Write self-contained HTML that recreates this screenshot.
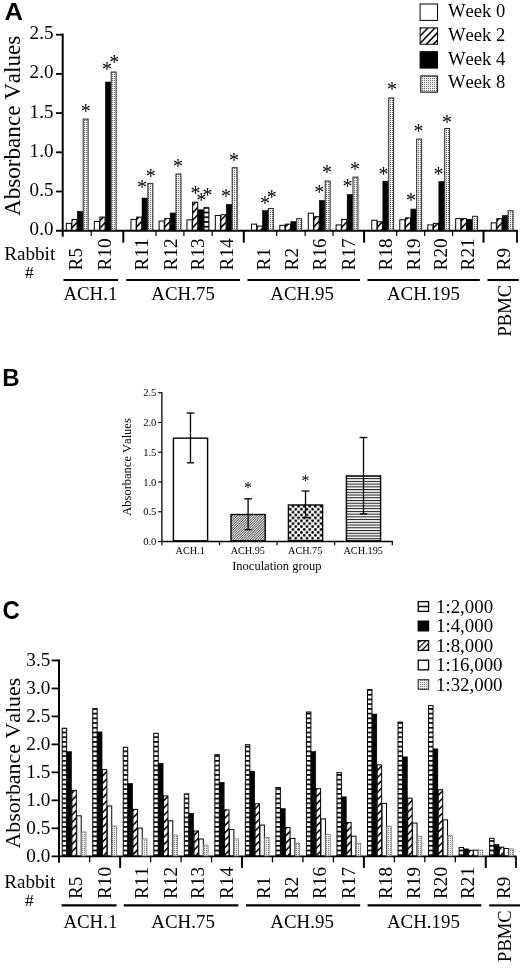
<!DOCTYPE html>
<html lang="en">
<head>
<meta charset="utf-8">
<title>Absorbance Values by rabbit and inoculation group</title>
<style>
html,body{margin:0;padding:0;background:#fff;}
body{width:520px;height:968px;overflow:hidden;}
svg{display:block;}
.s{font-family:"Liberation Serif","Times New Roman",serif;fill:#000;font-kerning:none;}
.h{font-family:"Liberation Sans",Arial,sans-serif;font-weight:bold;fill:#000;}
</style>
</head>
<body>
<svg width="520" height="968" viewBox="0 0 520 968">
<defs>
<pattern id="hatch" patternUnits="userSpaceOnUse" width="5.1" height="5.1" patternTransform="rotate(-46)">
<rect width="5.1" height="5.1" fill="#fff"/><rect x="0" y="0" width="5.1" height="1.55" fill="#000"/>
</pattern>
<pattern id="hatchL" patternUnits="userSpaceOnUse" width="3.9" height="3.9" patternTransform="rotate(-45) translate(0 0.9)">
<rect width="3.9" height="3.9" fill="#fff"/><rect x="0" y="0" width="3.9" height="1.2" fill="#000"/>
</pattern>
<pattern id="dotfineA" patternUnits="userSpaceOnUse" width="2" height="2">
<rect width="2" height="2" fill="#f0f0f0"/><rect x="0" y="0" width="1" height="1" fill="#6a6a6a"/>
</pattern>
<pattern id="dotfine" patternUnits="userSpaceOnUse" width="2" height="2">
<rect width="2" height="2" fill="#f0f0f0"/><rect x="0" y="0" width="1" height="1" fill="#808080"/>
</pattern>
<pattern id="fine" patternUnits="userSpaceOnUse" width="1.75" height="1.75" patternTransform="rotate(-45)">
<rect width="1.75" height="1.75" fill="#fff"/><rect x="0" y="0" width="1.75" height="0.66" fill="#111"/>
</pattern>
<pattern id="hstripe" patternUnits="userSpaceOnUse" width="10" height="2.73" patternTransform="translate(0 0.4)">
<rect width="10" height="2.73" fill="#fff"/><rect x="0" y="0" width="10" height="1.05" fill="#1a1a1a"/>
</pattern>
<pattern id="ladder" patternUnits="userSpaceOnUse" width="10" height="4.72">
<rect width="10" height="4.72" fill="#fff"/><rect x="0" y="0" width="10" height="1.7" fill="#000"/>
</pattern>
<pattern id="ladderA" patternUnits="userSpaceOnUse" width="10" height="4.75" patternTransform="translate(0 2.6)">
<rect width="10" height="4.75" fill="#fff"/><rect x="0" y="0" width="10" height="1.7" fill="#000"/>
</pattern>
<pattern id="dots" patternUnits="userSpaceOnUse" width="5.6" height="5.8" patternTransform="translate(0.4 0.3)">
<rect width="5.6" height="5.8" fill="#fff"/><circle cx="1.4" cy="1.45" r="1.42" fill="#000"/><circle cx="4.2" cy="4.35" r="1.42" fill="#000"/>
</pattern>
</defs>
<rect x="0" y="0" width="520" height="968" fill="#fff"/>

<g id="panelA">
<text class="h" font-size="23.5" transform="translate(4.6 20.1) scale(1.090 1)">A</text>
<line x1="62.7" y1="33.6" x2="62.7" y2="231.6" stroke="#000" stroke-width="2"/>
<text class="s" font-size="18.3" text-anchor="end" transform="translate(53.4 235.1) scale(1.040 1)">0.0</text>
<line x1="56" y1="191.5" x2="62.7" y2="191.5" stroke="#000" stroke-width="1.8"/>
<text class="s" font-size="18.3" text-anchor="end" transform="translate(53.4 195.9) scale(1.040 1)">0.5</text>
<line x1="56" y1="152.3" x2="62.7" y2="152.3" stroke="#000" stroke-width="1.8"/>
<text class="s" font-size="18.3" text-anchor="end" transform="translate(53.4 156.7) scale(1.040 1)">1.0</text>
<line x1="56" y1="113.1" x2="62.7" y2="113.1" stroke="#000" stroke-width="1.8"/>
<text class="s" font-size="18.3" text-anchor="end" transform="translate(53.4 117.5) scale(1.040 1)">1.5</text>
<line x1="56" y1="73.9" x2="62.7" y2="73.9" stroke="#000" stroke-width="1.8"/>
<text class="s" font-size="18.3" text-anchor="end" transform="translate(53.4 78.3) scale(1.040 1)">2.0</text>
<line x1="56" y1="34.7" x2="62.7" y2="34.7" stroke="#000" stroke-width="1.8"/>
<text class="s" font-size="18.3" text-anchor="end" transform="translate(53.4 39.1) scale(1.040 1)">2.5</text>
<line x1="56" y1="230.7" x2="517.9" y2="230.7" stroke="#000" stroke-width="2"/>
<text class="s" font-size="23.1" text-anchor="middle" transform="translate(20.2 125.8) rotate(-90)">Absorbance Values</text>
<rect x="66.3" y="223.36" width="5.13" height="6.84" fill="#fff" stroke="#000" stroke-width="1"/>
<rect x="71.93" y="219.44" width="5.13" height="10.76" fill="url(#hatch)" stroke="#000" stroke-width="1"/>
<rect x="77.36" y="211.4" width="5.33" height="19" fill="#000" stroke="#000" stroke-width="0.6"/>
<rect x="83.19" y="119.09" width="4.93" height="111.11" fill="url(#dotfineA)" stroke="#262626" stroke-width="1"/>
<line x1="62.7" y1="230.7" x2="62.7" y2="236.7" stroke="#000" stroke-width="2"/>
<rect x="94.3" y="221.4" width="5.13" height="8.8" fill="#fff" stroke="#000" stroke-width="1"/>
<rect x="99.93" y="217.09" width="5.13" height="13.11" fill="url(#hatch)" stroke="#000" stroke-width="1"/>
<rect x="105.36" y="82.04" width="5.33" height="148.36" fill="#000" stroke="#000" stroke-width="0.6"/>
<rect x="111.19" y="72.05" width="4.93" height="158.15" fill="url(#dotfineA)" stroke="#262626" stroke-width="1"/>
<line x1="91.2" y1="230.7" x2="91.2" y2="236.1" stroke="#000" stroke-width="1.2"/>
<rect x="131" y="219.44" width="5.13" height="10.76" fill="#fff" stroke="#000" stroke-width="1"/>
<rect x="136.63" y="217.09" width="5.13" height="13.11" fill="url(#hatch)" stroke="#000" stroke-width="1"/>
<rect x="142.06" y="198.07" width="5.33" height="32.33" fill="#000" stroke="#000" stroke-width="0.6"/>
<rect x="147.89" y="183.38" width="4.93" height="46.82" fill="url(#dotfineA)" stroke="#262626" stroke-width="1"/>
<line x1="123.3" y1="230.7" x2="123.3" y2="242.7" stroke="#000" stroke-width="2"/>
<rect x="159.1" y="221.01" width="5.13" height="9.19" fill="#fff" stroke="#000" stroke-width="1"/>
<rect x="164.73" y="218.66" width="5.13" height="11.54" fill="url(#hatch)" stroke="#000" stroke-width="1"/>
<rect x="170.16" y="212.97" width="5.33" height="17.43" fill="#000" stroke="#000" stroke-width="0.6"/>
<rect x="175.99" y="173.97" width="4.93" height="56.23" fill="url(#dotfineA)" stroke="#262626" stroke-width="1"/>
<line x1="156" y1="230.7" x2="156" y2="236.1" stroke="#000" stroke-width="1.2"/>
<rect x="187" y="219.83" width="5.13" height="10.37" fill="#fff" stroke="#000" stroke-width="1"/>
<rect x="192.63" y="202.19" width="5.13" height="28.01" fill="url(#hatch)" stroke="#000" stroke-width="1"/>
<rect x="198.06" y="209.83" width="5.33" height="20.57" fill="#000" stroke="#000" stroke-width="0.6"/>
<rect x="203.94" y="207.73" width="4.93" height="22.42" fill="url(#ladderA)" stroke="#000" stroke-width="1.1"/>
<line x1="183.9" y1="230.7" x2="183.9" y2="236.1" stroke="#000" stroke-width="1.2"/>
<rect x="215.3" y="215.52" width="5.13" height="14.68" fill="#fff" stroke="#000" stroke-width="1"/>
<rect x="220.93" y="214.74" width="5.13" height="15.46" fill="url(#hatch)" stroke="#000" stroke-width="1"/>
<rect x="226.36" y="204.34" width="5.33" height="26.06" fill="#000" stroke="#000" stroke-width="0.6"/>
<rect x="232.19" y="167.7" width="4.93" height="62.5" fill="url(#dotfineA)" stroke="#262626" stroke-width="1"/>
<line x1="212.2" y1="230.7" x2="212.2" y2="236.1" stroke="#000" stroke-width="1.2"/>
<rect x="251.5" y="224.14" width="5.13" height="6.06" fill="#fff" stroke="#000" stroke-width="1"/>
<rect x="257.13" y="226.1" width="5.13" height="4.1" fill="url(#hatch)" stroke="#000" stroke-width="1"/>
<rect x="262.56" y="210.62" width="5.33" height="19.78" fill="#000" stroke="#000" stroke-width="0.6"/>
<rect x="268.39" y="208.46" width="4.93" height="21.74" fill="url(#dotfineA)" stroke="#262626" stroke-width="1"/>
<line x1="243.8" y1="230.7" x2="243.8" y2="242.7" stroke="#000" stroke-width="2"/>
<rect x="279.8" y="225.32" width="5.13" height="4.88" fill="#fff" stroke="#000" stroke-width="1"/>
<rect x="285.43" y="224.14" width="5.13" height="6.06" fill="url(#hatch)" stroke="#000" stroke-width="1"/>
<rect x="290.86" y="221.59" width="5.33" height="8.81" fill="#000" stroke="#000" stroke-width="0.6"/>
<rect x="296.69" y="218.66" width="4.93" height="11.54" fill="url(#dotfineA)" stroke="#262626" stroke-width="1"/>
<line x1="276.7" y1="230.7" x2="276.7" y2="236.1" stroke="#000" stroke-width="1.2"/>
<rect x="308.3" y="213.17" width="5.13" height="17.03" fill="#fff" stroke="#000" stroke-width="1"/>
<rect x="313.93" y="216.7" width="5.13" height="13.5" fill="url(#hatch)" stroke="#000" stroke-width="1"/>
<rect x="319.36" y="200.42" width="5.33" height="29.98" fill="#000" stroke="#000" stroke-width="0.6"/>
<rect x="325.19" y="181.02" width="4.93" height="49.18" fill="url(#dotfineA)" stroke="#262626" stroke-width="1"/>
<line x1="305.2" y1="230.7" x2="305.2" y2="236.1" stroke="#000" stroke-width="1.2"/>
<rect x="336.1" y="224.93" width="5.13" height="5.27" fill="#fff" stroke="#000" stroke-width="1"/>
<rect x="341.73" y="219.44" width="5.13" height="10.76" fill="url(#hatch)" stroke="#000" stroke-width="1"/>
<rect x="347.16" y="194.54" width="5.33" height="35.86" fill="#000" stroke="#000" stroke-width="0.6"/>
<rect x="352.99" y="177.1" width="4.93" height="53.1" fill="url(#dotfineA)" stroke="#262626" stroke-width="1"/>
<line x1="333" y1="230.7" x2="333" y2="236.1" stroke="#000" stroke-width="1.2"/>
<rect x="371.8" y="220.22" width="5.13" height="9.98" fill="#fff" stroke="#000" stroke-width="1"/>
<rect x="377.43" y="221.79" width="5.13" height="8.41" fill="url(#hatch)" stroke="#000" stroke-width="1"/>
<rect x="382.86" y="181.22" width="5.33" height="49.18" fill="#000" stroke="#000" stroke-width="0.6"/>
<rect x="388.69" y="97.92" width="4.93" height="132.28" fill="url(#dotfineA)" stroke="#262626" stroke-width="1"/>
<line x1="364.1" y1="230.7" x2="364.1" y2="242.7" stroke="#000" stroke-width="2"/>
<rect x="399.8" y="219.75" width="5.13" height="10.45" fill="#fff" stroke="#000" stroke-width="1"/>
<rect x="405.43" y="217.87" width="5.13" height="12.33" fill="url(#hatch)" stroke="#000" stroke-width="1"/>
<rect x="410.86" y="209.05" width="5.33" height="21.35" fill="#000" stroke="#000" stroke-width="0.6"/>
<rect x="416.69" y="139.08" width="4.93" height="91.12" fill="url(#dotfineA)" stroke="#262626" stroke-width="1"/>
<line x1="396.7" y1="230.7" x2="396.7" y2="236.1" stroke="#000" stroke-width="1.2"/>
<rect x="427.8" y="224.93" width="5.13" height="5.27" fill="#fff" stroke="#000" stroke-width="1"/>
<rect x="433.43" y="223.36" width="5.13" height="6.84" fill="url(#hatch)" stroke="#000" stroke-width="1"/>
<rect x="438.86" y="181.61" width="5.33" height="48.79" fill="#000" stroke="#000" stroke-width="0.6"/>
<rect x="444.69" y="128.5" width="4.93" height="101.7" fill="url(#dotfineA)" stroke="#262626" stroke-width="1"/>
<line x1="424.7" y1="230.7" x2="424.7" y2="236.1" stroke="#000" stroke-width="1.2"/>
<rect x="455.7" y="218.66" width="5.13" height="11.54" fill="#fff" stroke="#000" stroke-width="1"/>
<rect x="461.33" y="218.66" width="5.13" height="11.54" fill="url(#hatch)" stroke="#000" stroke-width="1"/>
<rect x="466.76" y="219.24" width="5.33" height="11.16" fill="#000" stroke="#000" stroke-width="0.6"/>
<rect x="472.59" y="216.3" width="4.93" height="13.9" fill="url(#dotfineA)" stroke="#262626" stroke-width="1"/>
<line x1="452.6" y1="230.7" x2="452.6" y2="236.1" stroke="#000" stroke-width="1.2"/>
<rect x="491.2" y="222.89" width="5.13" height="7.31" fill="#fff" stroke="#000" stroke-width="1"/>
<rect x="496.83" y="218.66" width="5.13" height="11.54" fill="url(#hatch)" stroke="#000" stroke-width="1"/>
<rect x="502.26" y="215.48" width="5.33" height="14.92" fill="#000" stroke="#000" stroke-width="0.6"/>
<rect x="508.09" y="210.74" width="4.93" height="19.46" fill="url(#dotfineA)" stroke="#262626" stroke-width="1"/>
<line x1="483.5" y1="230.7" x2="483.5" y2="242.7" stroke="#000" stroke-width="2"/>
<line x1="517" y1="230.7" x2="517" y2="242.7" stroke="#000" stroke-width="1.8"/>
<text class="s" font-size="18.3" transform="translate(82 270.4) rotate(-90) scale(1.050 1)">R5</text>
<text class="s" font-size="18.3" transform="translate(110.6 270.4) rotate(-90) scale(1.050 1)">R10</text>
<text class="s" font-size="18.3" transform="translate(147.5 270.4) rotate(-90) scale(1.050 1)">R11</text>
<text class="s" font-size="18.3" transform="translate(176.6 270.4) rotate(-90) scale(1.050 1)">R12</text>
<text class="s" font-size="18.3" transform="translate(203.9 270.4) rotate(-90) scale(1.050 1)">R13</text>
<text class="s" font-size="18.3" transform="translate(233.4 270.4) rotate(-90) scale(1.050 1)">R14</text>
<text class="s" font-size="18.3" transform="translate(269.8 270.4) rotate(-90) scale(1.050 1)">R1</text>
<text class="s" font-size="18.3" transform="translate(297.6 270.4) rotate(-90) scale(1.050 1)">R2</text>
<text class="s" font-size="18.3" transform="translate(326.2 270.4) rotate(-90) scale(1.050 1)">R16</text>
<text class="s" font-size="18.3" transform="translate(355.4 270.4) rotate(-90) scale(1.050 1)">R17</text>
<text class="s" font-size="18.3" transform="translate(391.5 270.4) rotate(-90) scale(1.050 1)">R18</text>
<text class="s" font-size="18.3" transform="translate(419.5 270.4) rotate(-90) scale(1.050 1)">R19</text>
<text class="s" font-size="18.3" transform="translate(447 270.4) rotate(-90) scale(1.050 1)">R20</text>
<text class="s" font-size="18.3" transform="translate(473.8 270.4) rotate(-90) scale(1.050 1)">R21</text>
<text class="s" font-size="18.3" transform="translate(509.6 270.4) rotate(-90) scale(1.050 1)">R9</text>
<line x1="63.5" y1="280" x2="118.2" y2="280" stroke="#000" stroke-width="2.1"/>
<line x1="126.2" y1="280" x2="240" y2="280" stroke="#000" stroke-width="2.1"/>
<line x1="247.5" y1="280" x2="360" y2="280" stroke="#000" stroke-width="2.1"/>
<line x1="367.5" y1="280" x2="479.8" y2="280" stroke="#000" stroke-width="2.1"/>
<line x1="487.5" y1="280" x2="518.8" y2="280" stroke="#000" stroke-width="2.1"/>
<text class="s" font-size="18" text-anchor="middle" transform="translate(90.4 300.4) scale(1.050 1)">ACH.1</text>
<text class="s" font-size="18" text-anchor="middle" transform="translate(183.1 300.4) scale(1.050 1)">ACH.75</text>
<text class="s" font-size="18" text-anchor="middle" transform="translate(302.1 300.4) scale(1.050 1)">ACH.95</text>
<text class="s" font-size="18" text-anchor="middle" transform="translate(423.4 300.4) scale(1.050 1)">ACH.195</text>
<text class="s" font-size="18" text-anchor="end" transform="translate(510.8 285) rotate(-90) scale(1.030 1)">PBMC</text>
<text class="s" font-size="18" text-anchor="middle" transform="translate(29.7 259.6) scale(1.065 1)">Rabbit</text>
<text class="s" x="29.4" y="277.7" font-size="17.5" text-anchor="middle">#</text>
<text class="s" x="85.7" y="118.3" font-size="20" text-anchor="middle">*</text>
<text class="s" x="107" y="76.4" font-size="20" text-anchor="middle">*</text>
<text class="s" x="114.3" y="69.2" font-size="20" text-anchor="middle">*</text>
<text class="s" x="142" y="194.1" font-size="20" text-anchor="middle">*</text>
<text class="s" x="150.7" y="182.6" font-size="20" text-anchor="middle">*</text>
<text class="s" x="178" y="172.8" font-size="20" text-anchor="middle">*</text>
<text class="s" x="195.5" y="200.3" font-size="20" text-anchor="middle">*</text>
<text class="s" x="201.2" y="207.1" font-size="20" text-anchor="middle">*</text>
<text class="s" x="207.5" y="201.6" font-size="20" text-anchor="middle">*</text>
<text class="s" x="226" y="203.3" font-size="20" text-anchor="middle">*</text>
<text class="s" x="234" y="167.1" font-size="20" text-anchor="middle">*</text>
<text class="s" x="265" y="210.3" font-size="20" text-anchor="middle">*</text>
<text class="s" x="271.7" y="204.1" font-size="20" text-anchor="middle">*</text>
<text class="s" x="319.2" y="198.8" font-size="20" text-anchor="middle">*</text>
<text class="s" x="327" y="179.1" font-size="20" text-anchor="middle">*</text>
<text class="s" x="347.5" y="192.6" font-size="20" text-anchor="middle">*</text>
<text class="s" x="355" y="176.3" font-size="20" text-anchor="middle">*</text>
<text class="s" x="383.6" y="180.6" font-size="20" text-anchor="middle">*</text>
<text class="s" x="392" y="95.6" font-size="20" text-anchor="middle">*</text>
<text class="s" x="411" y="206.6" font-size="20" text-anchor="middle">*</text>
<text class="s" x="418.5" y="138.3" font-size="20" text-anchor="middle">*</text>
<text class="s" x="438.5" y="181.2" font-size="20" text-anchor="middle">*</text>
<text class="s" x="447" y="128.8" font-size="20" text-anchor="middle">*</text>
<rect x="420.1" y="4" width="17.4" height="16.4" fill="#fff" stroke="#000" stroke-width="1"/>
<text class="s" font-size="17.9" transform="translate(448 16.9) scale(1.040 1)">Week 0</text>
<rect x="420.1" y="27.85" width="17.4" height="16.4" fill="url(#hatch)" stroke="#000" stroke-width="1"/>
<text class="s" font-size="17.9" transform="translate(448 40.75) scale(1.040 1)">Week 2</text>
<rect x="420.1" y="51.7" width="17.4" height="16.4" fill="#000" stroke="#000" stroke-width="1"/>
<text class="s" font-size="17.9" transform="translate(448 64.6) scale(1.040 1)">Week 4</text>
<rect x="420.8" y="75.95" width="16.6" height="16.2" fill="url(#dotfineA)" stroke="#262626" stroke-width="1.2"/>
<text class="s" font-size="17.9" transform="translate(448 88.45) scale(1.040 1)">Week 8</text>
</g>
<g id="panelB">
<text class="h" x="2.2" y="386.2" font-size="24">B</text>
<line x1="161.9" y1="392.15" x2="161.9" y2="542.1" stroke="#000" stroke-width="1.3"/>
<line x1="158.2" y1="541.5" x2="161.9" y2="541.5" stroke="#000" stroke-width="1.2"/>
<text class="s" x="156.4" y="545.2" font-size="10.6" text-anchor="end">0.0</text>
<line x1="158.2" y1="511.75" x2="161.9" y2="511.75" stroke="#000" stroke-width="1.2"/>
<text class="s" x="156.4" y="515.45" font-size="10.6" text-anchor="end">0.5</text>
<line x1="158.2" y1="482" x2="161.9" y2="482" stroke="#000" stroke-width="1.2"/>
<text class="s" x="156.4" y="485.7" font-size="10.6" text-anchor="end">1.0</text>
<line x1="158.2" y1="452.25" x2="161.9" y2="452.25" stroke="#000" stroke-width="1.2"/>
<text class="s" x="156.4" y="455.95" font-size="10.6" text-anchor="end">1.5</text>
<line x1="158.2" y1="422.5" x2="161.9" y2="422.5" stroke="#000" stroke-width="1.2"/>
<text class="s" x="156.4" y="426.2" font-size="10.6" text-anchor="end">2.0</text>
<line x1="158.2" y1="392.75" x2="161.9" y2="392.75" stroke="#000" stroke-width="1.2"/>
<text class="s" x="156.4" y="396.45" font-size="10.6" text-anchor="end">2.5</text>
<line x1="161.3" y1="541.5" x2="392.9" y2="541.5" stroke="#000" stroke-width="1.3"/>
<text class="s" font-size="12.5" text-anchor="middle" transform="translate(130.5 467) rotate(-90)">Absorbance Values</text>
<line x1="161.9" y1="541.5" x2="161.9" y2="545.3" stroke="#000" stroke-width="1.2"/>
<line x1="219.5" y1="541.5" x2="219.5" y2="545.3" stroke="#000" stroke-width="1.2"/>
<line x1="277.1" y1="541.5" x2="277.1" y2="545.3" stroke="#000" stroke-width="1.2"/>
<line x1="334.7" y1="541.5" x2="334.7" y2="545.3" stroke="#000" stroke-width="1.2"/>
<line x1="392.3" y1="541.5" x2="392.3" y2="545.3" stroke="#000" stroke-width="1.2"/>
<rect x="173.4" y="438.17" width="34.2" height="102.63" fill="#fff" stroke="#000" stroke-width="1.4"/>
<line x1="190.5" y1="413" x2="190.5" y2="462.8" stroke="#000" stroke-width="1.3"/>
<line x1="186.6" y1="413" x2="194.4" y2="413" stroke="#000" stroke-width="1.3"/>
<line x1="186.9" y1="462.8" x2="194.1" y2="462.8" stroke="#000" stroke-width="1.3"/>
<text class="s" x="190.2" y="553.6" font-size="10.2" text-anchor="middle">ACH.1</text>
<rect x="231" y="514.51" width="34.2" height="26.29" fill="url(#fine)" stroke="#000" stroke-width="1.4"/>
<line x1="248.1" y1="498.8" x2="248.1" y2="529.6" stroke="#000" stroke-width="1.3"/>
<line x1="244.2" y1="498.8" x2="252" y2="498.8" stroke="#000" stroke-width="1.3"/>
<line x1="244.5" y1="529.6" x2="251.7" y2="529.6" stroke="#000" stroke-width="1.3"/>
<text class="s" x="247.8" y="553.6" font-size="10.2" text-anchor="middle">ACH.95</text>
<text class="s" x="248.1" y="493.2" font-size="16" text-anchor="middle">*</text>
<rect x="288.4" y="504.99" width="34.2" height="35.81" fill="url(#dots)" stroke="#000" stroke-width="1.4"/>
<line x1="305.5" y1="491" x2="305.5" y2="517.7" stroke="#000" stroke-width="1.3"/>
<line x1="301.6" y1="491" x2="309.4" y2="491" stroke="#000" stroke-width="1.3"/>
<line x1="301.9" y1="517.7" x2="309.1" y2="517.7" stroke="#000" stroke-width="1.3"/>
<text class="s" x="305.2" y="553.6" font-size="10.2" text-anchor="middle">ACH.75</text>
<text class="s" x="305.4" y="486" font-size="16" text-anchor="middle">*</text>
<rect x="346.4" y="475.95" width="34.2" height="64.85" fill="url(#hstripe)" stroke="#000" stroke-width="1.4"/>
<line x1="363.5" y1="437.5" x2="363.5" y2="513.9" stroke="#000" stroke-width="1.3"/>
<line x1="359.6" y1="437.5" x2="367.4" y2="437.5" stroke="#000" stroke-width="1.3"/>
<line x1="359.9" y1="513.9" x2="367.1" y2="513.9" stroke="#000" stroke-width="1.3"/>
<text class="s" x="363.2" y="553.6" font-size="10.2" text-anchor="middle">ACH.195</text>
<text class="s" x="276.8" y="569.8" font-size="12.5" text-anchor="middle">Inoculation group</text>
</g>
<g id="panelC">
<text class="h" font-size="26.6" transform="translate(2.4 618.7) scale(0.900 1)">C</text>
<line x1="59" y1="659.57" x2="59" y2="857.2" stroke="#000" stroke-width="2"/>
<text class="s" font-size="18.3" text-anchor="end" transform="translate(50.3 861.5) scale(1.050 1)">0.0</text>
<line x1="51.6" y1="828.32" x2="59" y2="828.32" stroke="#000" stroke-width="1.8"/>
<text class="s" font-size="18.3" text-anchor="end" transform="translate(50.3 833.52) scale(1.050 1)">0.5</text>
<line x1="51.6" y1="800.35" x2="59" y2="800.35" stroke="#000" stroke-width="1.8"/>
<text class="s" font-size="18.3" text-anchor="end" transform="translate(50.3 805.55) scale(1.050 1)">1.0</text>
<line x1="51.6" y1="772.38" x2="59" y2="772.38" stroke="#000" stroke-width="1.8"/>
<text class="s" font-size="18.3" text-anchor="end" transform="translate(50.3 777.58) scale(1.050 1)">1.5</text>
<line x1="51.6" y1="744.4" x2="59" y2="744.4" stroke="#000" stroke-width="1.8"/>
<text class="s" font-size="18.3" text-anchor="end" transform="translate(50.3 749.6) scale(1.050 1)">2.0</text>
<line x1="51.6" y1="716.42" x2="59" y2="716.42" stroke="#000" stroke-width="1.8"/>
<text class="s" font-size="18.3" text-anchor="end" transform="translate(50.3 721.62) scale(1.050 1)">2.5</text>
<line x1="51.6" y1="688.45" x2="59" y2="688.45" stroke="#000" stroke-width="1.8"/>
<text class="s" font-size="18.3" text-anchor="end" transform="translate(50.3 693.65) scale(1.050 1)">3.0</text>
<line x1="51.6" y1="660.47" x2="59" y2="660.47" stroke="#000" stroke-width="1.8"/>
<text class="s" font-size="18.3" text-anchor="end" transform="translate(50.3 665.67) scale(1.050 1)">3.5</text>
<line x1="51.6" y1="856.3" x2="516.6" y2="856.3" stroke="#000" stroke-width="1.8"/>
<text class="s" font-size="21.9" text-anchor="middle" transform="translate(20 763.2) rotate(-90)">Absorbance Values</text>
<rect x="62.2" y="728.23" width="4.45" height="127.57" fill="url(#ladder)" stroke="#000" stroke-width="1"/>
<rect x="66.85" y="751.69" width="4.65" height="104.31" fill="#000" stroke="#000" stroke-width="0.6"/>
<rect x="71.9" y="790.33" width="4.45" height="65.47" fill="url(#hatch)" stroke="#000" stroke-width="1"/>
<rect x="76.75" y="815.79" width="4.45" height="40.01" fill="#fff" stroke="#000" stroke-width="1"/>
<rect x="81.5" y="831.91" width="4.45" height="23.99" fill="url(#dotfine)" stroke="#777" stroke-width="0.8"/>
<line x1="59" y1="856.3" x2="59" y2="862.8" stroke="#000" stroke-width="2"/>
<rect x="92.73" y="708.64" width="4.45" height="147.16" fill="url(#ladder)" stroke="#000" stroke-width="1"/>
<rect x="97.38" y="731.94" width="4.65" height="124.06" fill="#000" stroke="#000" stroke-width="0.6"/>
<rect x="102.43" y="769.63" width="4.45" height="86.17" fill="url(#hatch)" stroke="#000" stroke-width="1"/>
<rect x="107.28" y="806" width="4.45" height="49.8" fill="#fff" stroke="#000" stroke-width="1"/>
<rect x="112.03" y="826.04" width="4.45" height="29.86" fill="url(#dotfine)" stroke="#777" stroke-width="0.8"/>
<line x1="89.67" y1="856.3" x2="89.67" y2="862.3" stroke="#000" stroke-width="1.3"/>
<rect x="123.26" y="747.25" width="4.45" height="108.55" fill="url(#ladder)" stroke="#000" stroke-width="1"/>
<rect x="127.91" y="783.42" width="4.65" height="72.58" fill="#000" stroke="#000" stroke-width="0.6"/>
<rect x="132.96" y="809.35" width="4.45" height="46.45" fill="url(#hatch)" stroke="#000" stroke-width="1"/>
<rect x="137.81" y="828.1" width="4.45" height="27.7" fill="#fff" stroke="#000" stroke-width="1"/>
<rect x="142.56" y="838.91" width="4.45" height="16.99" fill="url(#dotfine)" stroke="#777" stroke-width="0.8"/>
<line x1="120.14" y1="856.3" x2="120.14" y2="867.9" stroke="#000" stroke-width="2"/>
<rect x="153.79" y="733.26" width="4.45" height="122.54" fill="url(#ladder)" stroke="#000" stroke-width="1"/>
<rect x="158.44" y="763.28" width="4.65" height="92.72" fill="#000" stroke="#000" stroke-width="0.6"/>
<rect x="163.49" y="795.93" width="4.45" height="59.87" fill="url(#hatch)" stroke="#000" stroke-width="1"/>
<rect x="168.34" y="820.82" width="4.45" height="34.98" fill="#fff" stroke="#000" stroke-width="1"/>
<rect x="173.09" y="834.99" width="4.45" height="20.91" fill="url(#dotfine)" stroke="#777" stroke-width="0.8"/>
<line x1="150.61" y1="856.3" x2="150.61" y2="862.3" stroke="#000" stroke-width="1.3"/>
<rect x="184.32" y="793.86" width="4.45" height="61.94" fill="url(#ladder)" stroke="#000" stroke-width="1"/>
<rect x="188.97" y="813.24" width="4.65" height="42.76" fill="#000" stroke="#000" stroke-width="0.6"/>
<rect x="194.02" y="831.01" width="4.45" height="24.79" fill="url(#hatch)" stroke="#000" stroke-width="1"/>
<rect x="198.87" y="839.01" width="4.45" height="16.79" fill="#fff" stroke="#000" stroke-width="1"/>
<rect x="203.62" y="845.06" width="4.45" height="10.84" fill="url(#dotfine)" stroke="#777" stroke-width="0.8"/>
<line x1="181.08" y1="856.3" x2="181.08" y2="862.3" stroke="#000" stroke-width="1.3"/>
<rect x="214.85" y="754.69" width="4.45" height="101.11" fill="url(#ladder)" stroke="#000" stroke-width="1"/>
<rect x="219.5" y="782.3" width="4.65" height="73.7" fill="#000" stroke="#000" stroke-width="0.6"/>
<rect x="224.55" y="809.91" width="4.45" height="45.89" fill="url(#hatch)" stroke="#000" stroke-width="1"/>
<rect x="229.4" y="829.66" width="4.45" height="26.14" fill="#fff" stroke="#000" stroke-width="1"/>
<rect x="234.15" y="838.91" width="4.45" height="16.99" fill="url(#dotfine)" stroke="#777" stroke-width="0.8"/>
<line x1="211.55" y1="856.3" x2="211.55" y2="862.3" stroke="#000" stroke-width="1.3"/>
<rect x="245.38" y="744.73" width="4.45" height="111.07" fill="url(#ladder)" stroke="#000" stroke-width="1"/>
<rect x="250.03" y="771.11" width="4.65" height="84.89" fill="#000" stroke="#000" stroke-width="0.6"/>
<rect x="255.08" y="803.76" width="4.45" height="52.04" fill="url(#hatch)" stroke="#000" stroke-width="1"/>
<rect x="259.93" y="825.02" width="4.45" height="30.78" fill="#fff" stroke="#000" stroke-width="1"/>
<rect x="264.68" y="837.51" width="4.45" height="18.39" fill="url(#dotfine)" stroke="#777" stroke-width="0.8"/>
<line x1="242.02" y1="856.3" x2="242.02" y2="867.9" stroke="#000" stroke-width="2"/>
<rect x="275.91" y="787.53" width="4.45" height="68.27" fill="url(#ladder)" stroke="#000" stroke-width="1"/>
<rect x="280.56" y="808.59" width="4.65" height="47.41" fill="#000" stroke="#000" stroke-width="0.6"/>
<rect x="285.61" y="827.54" width="4.45" height="28.26" fill="url(#hatch)" stroke="#000" stroke-width="1"/>
<rect x="290.46" y="838.45" width="4.45" height="17.35" fill="#fff" stroke="#000" stroke-width="1"/>
<rect x="295.21" y="843.38" width="4.45" height="12.52" fill="url(#dotfine)" stroke="#777" stroke-width="0.8"/>
<line x1="272.49" y1="856.3" x2="272.49" y2="862.3" stroke="#000" stroke-width="1.3"/>
<rect x="306.44" y="712" width="4.45" height="143.8" fill="url(#ladder)" stroke="#000" stroke-width="1"/>
<rect x="311.09" y="751.53" width="4.65" height="104.47" fill="#000" stroke="#000" stroke-width="0.6"/>
<rect x="316.14" y="788.65" width="4.45" height="67.15" fill="url(#hatch)" stroke="#000" stroke-width="1"/>
<rect x="320.99" y="818.87" width="4.45" height="36.93" fill="#fff" stroke="#000" stroke-width="1"/>
<rect x="325.74" y="834.6" width="4.45" height="21.3" fill="url(#dotfine)" stroke="#777" stroke-width="0.8"/>
<line x1="302.96" y1="856.3" x2="302.96" y2="862.3" stroke="#000" stroke-width="1.3"/>
<rect x="336.97" y="772.6" width="4.45" height="83.2" fill="url(#ladder)" stroke="#000" stroke-width="1"/>
<rect x="341.62" y="796.85" width="4.65" height="59.15" fill="#000" stroke="#000" stroke-width="0.6"/>
<rect x="346.67" y="822.56" width="4.45" height="33.24" fill="url(#hatch)" stroke="#000" stroke-width="1"/>
<rect x="351.52" y="836.21" width="4.45" height="19.59" fill="#fff" stroke="#000" stroke-width="1"/>
<rect x="356.27" y="843.38" width="4.45" height="12.52" fill="url(#dotfine)" stroke="#777" stroke-width="0.8"/>
<line x1="333.43" y1="856.3" x2="333.43" y2="862.3" stroke="#000" stroke-width="1.3"/>
<rect x="367.5" y="689.62" width="4.45" height="166.18" fill="url(#ladder)" stroke="#000" stroke-width="1"/>
<rect x="372.15" y="714.04" width="4.65" height="141.96" fill="#000" stroke="#000" stroke-width="0.6"/>
<rect x="377.2" y="764.87" width="4.45" height="90.93" fill="url(#hatch)" stroke="#000" stroke-width="1"/>
<rect x="382.05" y="803.37" width="4.45" height="52.43" fill="#fff" stroke="#000" stroke-width="1"/>
<rect x="386.8" y="826.04" width="4.45" height="29.86" fill="url(#dotfine)" stroke="#777" stroke-width="0.8"/>
<line x1="363.9" y1="856.3" x2="363.9" y2="867.9" stroke="#000" stroke-width="2"/>
<rect x="398.03" y="722.07" width="4.45" height="133.73" fill="url(#ladder)" stroke="#000" stroke-width="1"/>
<rect x="402.68" y="756.84" width="4.65" height="99.16" fill="#000" stroke="#000" stroke-width="0.6"/>
<rect x="407.73" y="798.16" width="4.45" height="57.64" fill="url(#hatch)" stroke="#000" stroke-width="1"/>
<rect x="412.58" y="823.06" width="4.45" height="32.74" fill="#fff" stroke="#000" stroke-width="1"/>
<rect x="417.33" y="836.28" width="4.45" height="19.62" fill="url(#dotfine)" stroke="#777" stroke-width="0.8"/>
<line x1="394.37" y1="856.3" x2="394.37" y2="862.3" stroke="#000" stroke-width="1.3"/>
<rect x="428.56" y="705.57" width="4.45" height="150.23" fill="url(#ladder)" stroke="#000" stroke-width="1"/>
<rect x="433.21" y="748.9" width="4.65" height="107.1" fill="#000" stroke="#000" stroke-width="0.6"/>
<rect x="438.26" y="789.77" width="4.45" height="66.03" fill="url(#hatch)" stroke="#000" stroke-width="1"/>
<rect x="443.11" y="819.87" width="4.45" height="35.93" fill="#fff" stroke="#000" stroke-width="1"/>
<rect x="447.86" y="835.66" width="4.45" height="20.24" fill="url(#dotfine)" stroke="#777" stroke-width="0.8"/>
<line x1="424.84" y1="856.3" x2="424.84" y2="862.3" stroke="#000" stroke-width="1.3"/>
<rect x="459.09" y="847.51" width="4.45" height="8.29" fill="url(#ladder)" stroke="#000" stroke-width="1"/>
<rect x="463.74" y="848.88" width="4.65" height="7.12" fill="#000" stroke="#000" stroke-width="0.6"/>
<rect x="468.79" y="850.2" width="4.45" height="5.6" fill="url(#hatch)" stroke="#000" stroke-width="1"/>
<rect x="473.64" y="850.2" width="4.45" height="5.6" fill="#fff" stroke="#000" stroke-width="1"/>
<rect x="478.39" y="850.1" width="4.45" height="5.8" fill="url(#dotfine)" stroke="#777" stroke-width="0.8"/>
<line x1="455.31" y1="856.3" x2="455.31" y2="862.3" stroke="#000" stroke-width="1.3"/>
<rect x="489.62" y="838.28" width="4.45" height="17.52" fill="url(#ladder)" stroke="#000" stroke-width="1"/>
<rect x="494.27" y="844.4" width="4.65" height="11.6" fill="#000" stroke="#000" stroke-width="0.6"/>
<rect x="499.32" y="847.18" width="4.45" height="8.62" fill="url(#hatch)" stroke="#000" stroke-width="1"/>
<rect x="504.17" y="848.52" width="4.45" height="7.28" fill="#fff" stroke="#000" stroke-width="1"/>
<rect x="508.92" y="848.98" width="4.45" height="6.92" fill="url(#dotfine)" stroke="#777" stroke-width="0.8"/>
<line x1="485.78" y1="856.3" x2="485.78" y2="867.9" stroke="#000" stroke-width="2"/>
<line x1="516" y1="856.3" x2="516" y2="867.9" stroke="#000" stroke-width="1.8"/>
<text class="s" font-size="18.3" transform="translate(82 899) rotate(-90) scale(1.050 1)">R5</text>
<text class="s" font-size="18.3" transform="translate(110.6 899) rotate(-90) scale(1.050 1)">R10</text>
<text class="s" font-size="18.3" transform="translate(147.5 899) rotate(-90) scale(1.050 1)">R11</text>
<text class="s" font-size="18.3" transform="translate(176.6 899) rotate(-90) scale(1.050 1)">R12</text>
<text class="s" font-size="18.3" transform="translate(203.9 899) rotate(-90) scale(1.050 1)">R13</text>
<text class="s" font-size="18.3" transform="translate(233.4 899) rotate(-90) scale(1.050 1)">R14</text>
<text class="s" font-size="18.3" transform="translate(269.8 899) rotate(-90) scale(1.050 1)">R1</text>
<text class="s" font-size="18.3" transform="translate(297.6 899) rotate(-90) scale(1.050 1)">R2</text>
<text class="s" font-size="18.3" transform="translate(326.2 899) rotate(-90) scale(1.050 1)">R16</text>
<text class="s" font-size="18.3" transform="translate(355.4 899) rotate(-90) scale(1.050 1)">R17</text>
<text class="s" font-size="18.3" transform="translate(391.5 899) rotate(-90) scale(1.050 1)">R18</text>
<text class="s" font-size="18.3" transform="translate(419.5 899) rotate(-90) scale(1.050 1)">R19</text>
<text class="s" font-size="18.3" transform="translate(447 899) rotate(-90) scale(1.050 1)">R20</text>
<text class="s" font-size="18.3" transform="translate(473.8 899) rotate(-90) scale(1.050 1)">R21</text>
<text class="s" font-size="18.3" transform="translate(509.6 899) rotate(-90) scale(1.050 1)">R9</text>
<line x1="61.5" y1="905.4" x2="116.6" y2="905.4" stroke="#000" stroke-width="2.1"/>
<line x1="123.8" y1="905.4" x2="238.4" y2="905.4" stroke="#000" stroke-width="2.1"/>
<line x1="246" y1="905.4" x2="360.2" y2="905.4" stroke="#000" stroke-width="2.1"/>
<line x1="367.6" y1="905.4" x2="481.3" y2="905.4" stroke="#000" stroke-width="2.1"/>
<line x1="489.2" y1="905.4" x2="520" y2="905.4" stroke="#000" stroke-width="2.1"/>
<text class="s" font-size="18" text-anchor="middle" transform="translate(90.4 927.7) scale(1.050 1)">ACH.1</text>
<text class="s" font-size="18" text-anchor="middle" transform="translate(183.1 927.7) scale(1.050 1)">ACH.75</text>
<text class="s" font-size="18" text-anchor="middle" transform="translate(302.1 927.7) scale(1.050 1)">ACH.95</text>
<text class="s" font-size="18" text-anchor="middle" transform="translate(423.4 927.7) scale(1.050 1)">ACH.195</text>
<text class="s" font-size="18" text-anchor="end" transform="translate(510.8 910.4) rotate(-90) scale(1.030 1)">PBMC</text>
<text class="s" font-size="18" text-anchor="middle" transform="translate(29.7 888.2) scale(1.065 1)">Rabbit</text>
<text class="s" x="29.4" y="906.3" font-size="17.5" text-anchor="middle">#</text>
<rect x="418.25" y="601.65" width="10.3" height="9.7" fill="#fff" stroke="#000" stroke-width="1.3"/>
<line x1="418" y1="606.5" x2="429" y2="606.5" stroke="#000" stroke-width="1.5"/>
<text class="s" font-size="18.4" transform="translate(436 612.5) scale(1.025 1)">1:2,000</text>
<rect x="418.25" y="621.15" width="10.3" height="9.7" fill="#000" stroke="#000" stroke-width="1.3"/>
<text class="s" font-size="18.4" transform="translate(436 632) scale(1.025 1)">1:4,000</text>
<rect x="418.25" y="640.65" width="10.3" height="9.7" fill="url(#hatchL)" stroke="#000" stroke-width="1.3"/>
<text class="s" font-size="18.4" transform="translate(436 651.5) scale(1.025 1)">1:8,000</text>
<rect x="418.25" y="660.15" width="10.3" height="9.7" fill="#fff" stroke="#000" stroke-width="1.3"/>
<text class="s" font-size="18.4" transform="translate(436 671) scale(1.025 1)">1:16,000</text>
<rect x="418.25" y="679.65" width="10.3" height="9.7" fill="url(#dotfine)" stroke="#4a4a4a" stroke-width="1.3"/>
<text class="s" font-size="18.4" transform="translate(436 690.5) scale(1.025 1)">1:32,000</text>
</g>
</svg>
</body>
</html>
